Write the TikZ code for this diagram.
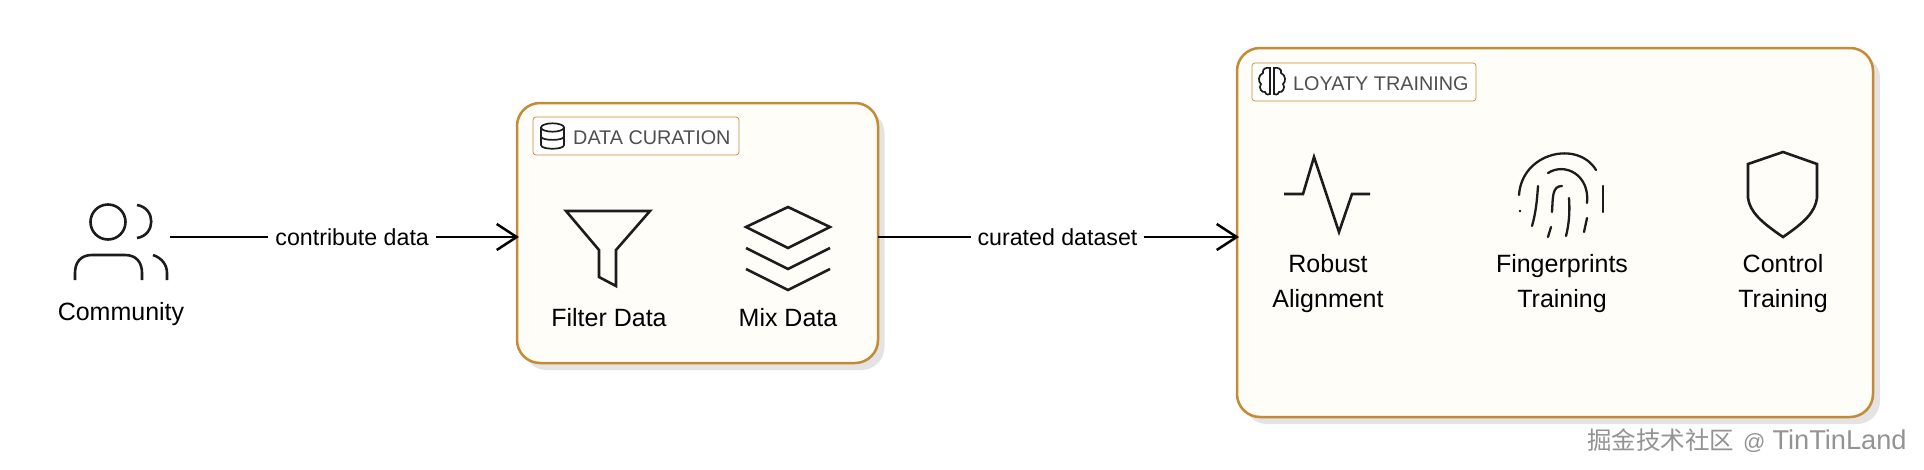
\documentclass[tikz,border=0pt]{standalone}
\usepackage{fontspec}
\setmainfont{Liberation Sans}
\newfontfamily\cjkfont{Noto Sans CJK SC}
\usetikzlibrary{arrows.meta}
\definecolor{boxborder}{HTML}{C48A35}
\definecolor{boxfill}{HTML}{FEFDF8}
\definecolor{boxshadow}{HTML}{E3E3E3}
\definecolor{titlegray}{HTML}{4F4F4F}
\definecolor{inkblack}{HTML}{1C1C1C}
\tikzset{
  groupbox/.style={draw=boxborder, fill=boxfill, line width=2.5pt, rounded corners=23pt, inner sep=0pt, outer sep=0pt},
  shadowbox/.style={fill=boxshadow, rounded corners=23pt, inner sep=0pt},
  titlebox/.style={draw=boxborder, fill=white, line width=0.7pt, rounded corners=3pt, inner sep=0pt},
  titletext/.style={text=titlegray, font=\fontsize{19.8}{24}\selectfont, inner sep=0pt, anchor=base west},
  icontext/.style={text=black, font=\fontsize{25}{35}\selectfont, align=center, inner sep=0pt, anchor=base},
  linktext/.style={text=black, fill=white, font=\fontsize{23.2}{26}\selectfont, inner xsep=7pt, inner ysep=3pt},
  flowline/.style={draw=black, line width=2.5pt, -{Straight Barb[length=20pt,width=26pt,line width=2.5pt]}},
  iconline/.style={draw=inkblack, line width=2.6pt, line join=miter},
  smallicon/.style={draw=inkblack, line width=1.7pt},
}
\begin{document}
\begin{tikzpicture}[x=1pt,y=-1pt]
    \useasboundingbox[fill=white] (0,0) rectangle (1924,469);

    % Boites et ombres
    \node[shadowbox, minimum width=361pt, minimum height=260pt] at (704,240) {};
    \node[groupbox, minimum width=361pt, minimum height=260pt] (curation) at (697.5,233) {};
    \node[shadowbox, minimum width=636pt, minimum height=369pt] at (1562,239.5) {};
    \node[groupbox, minimum width=636pt, minimum height=369pt] (loyalty) at (1555,232.5) {};

    % Titres
    \node[titlebox, minimum width=206pt, minimum height=38pt] (curationtitle) at (636,136) {};
    \node[titletext] (curationtext) at (573,144) {DATA CURATION};
    \node[titlebox, minimum width=224pt, minimum height=38pt] (loyaltytitle) at (1364,82) {};
    \node[titletext] (loyaltytext) at (1293,90) {LOYATY TRAINING};

    % Community
    \node[minimum width=98pt, minimum height=80pt, inner sep=0pt, outer sep=0pt] (community) at (121,237) {};
    \begin{scope}[shift={(72,205)}]
      \draw[iconline] (36,17) circle (17.5);
      \draw[iconline] (65,0) .. controls (84,3) and (84,30) .. (65,33);
      \draw[iconline] (3,75) -- (3,68) .. controls (3,57) and (9,50) .. (20,50) -- (53,50) .. controls (64,50) and (70,57) .. (70,68) -- (70,75);
      \draw[iconline] (81,50) .. controls (90,53) and (95,60) .. (95,68) -- (95,75);
    \end{scope}
    \node[icontext] (communitytext) at (121,320) {Community};

    % Filter Data
    \draw[iconline] (566,211) -- (650,211) -- (616,250) -- (616,286) -- (599,277) -- (599,250) -- cycle;
    \node[icontext] (filtertext) at (609,326) {Filter Data};

    % Mix Data
    \draw[iconline] (788,207) -- (830,227) -- (788,248) -- (746,227) -- cycle;
    \draw[iconline] (746,248) -- (788,269) -- (830,248);
    \draw[iconline] (746,269) -- (788,290) -- (830,269);
    \node[icontext] (mixtext) at (788,326) {Mix Data};

    % Robust Alignment
    \draw[iconline] (1284,194) -- (1303,194) -- (1314,157) -- (1339,232) -- (1352,194) -- (1370,194);
    \node[icontext] (robusttext) at (1328,307) {Robust\\Alignment};

    % Fingerprints Training
    \begin{scope}[iconline, line cap=round, line width=2.3pt]
      \draw (1519,195) .. controls (1522,152) and (1578,140) .. (1596,170);
      \draw (1548,173) .. controls (1565,162) and (1590,175) .. (1587,203);
      \draw (1603,186) -- (1603,212);
      \draw (1538,186) .. controls (1537,200) and (1536,212) .. (1532,226);
      \draw (1562,186) .. controls (1552,186) and (1553,197) .. (1552,212);
      \draw (1569,198) .. controls (1570,212) and (1569,224) .. (1566,236);
      \draw (1587,218) -- (1584,232);
      \draw (1551,227) -- (1548,237);
      \fill[inkblack] (1520,211) circle (1.3);
    \end{scope}
    \node[icontext] (fingertext) at (1562,307) {Fingerprints\\Training};

    % Control Training
    \draw[iconline] (1783,152) -- (1817,164) -- (1817,198) .. controls (1815,212) and (1805,222) .. (1783,237) .. controls (1761,222) and (1750,212) .. (1748,198) -- (1748,164) -- cycle;
    \node[icontext] (controltext) at (1783,307) {Control\\Training};

    % Petites icones des titres
    \begin{scope}[shift={(552.5,136)}]
      \draw[smallicon] (0,-8.5) ellipse (11.5 and 4.2);
      \draw[smallicon] (-11.5,-8.5) -- (-11.5,9) .. controls (-11.5,14) and (11.5,14) .. (11.5,9) -- (11.5,-8.5);
      \draw[smallicon] (-11.5,0.5) .. controls (-11.5,5) and (11.5,5) .. (11.5,0.5);
    \end{scope}
    \begin{scope}[shift={(1272,81)}]
      \draw[smallicon] (-2,-13) .. controls (-6,-14) and (-10,-12) .. (-9,-8) .. controls (-14,-6) and (-14,1) .. (-11,3) .. controls (-14,7) and (-10,12) .. (-7,11) .. controls (-6,14) and (-3,14) .. (-2,13) -- cycle;
      \draw[smallicon] (2,-13) .. controls (6,-14) and (10,-12) .. (9,-8) .. controls (14,-6) and (14,1) .. (11,3) .. controls (14,7) and (10,12) .. (7,11) .. controls (6,14) and (3,14) .. (2,13) -- cycle;
    \end{scope}

    % Fleches
    \coordinate (curationin) at (curation.west |- community.east);
    \coordinate (curationout) at (curation.east |- community.east);
    \coordinate (loyaltyin) at (loyalty.west |- community.east);
    \draw[flowline, shorten >=-2pt] (community.east) -- (curationin) node[linktext, pos=0.525] (contributetext) {contribute data};
    \draw[flowline, shorten >=-2pt] (curationout) -- (loyaltyin) node[linktext, midway] (curatedtext) {curated dataset};

    % Filigrane
    \node[text=gray!85, font=\fontsize{24.5}{28}\selectfont, inner sep=0pt, anchor=base west] (watermark) at (1587,449) {{\cjkfont 掘金技术社区}\hspace{9pt}{\fontsize{22}{28}\selectfont @}\hspace{7pt}{\fontsize{27.2}{28}\selectfont TinTinLand}};
\end{tikzpicture}
\end{document}
